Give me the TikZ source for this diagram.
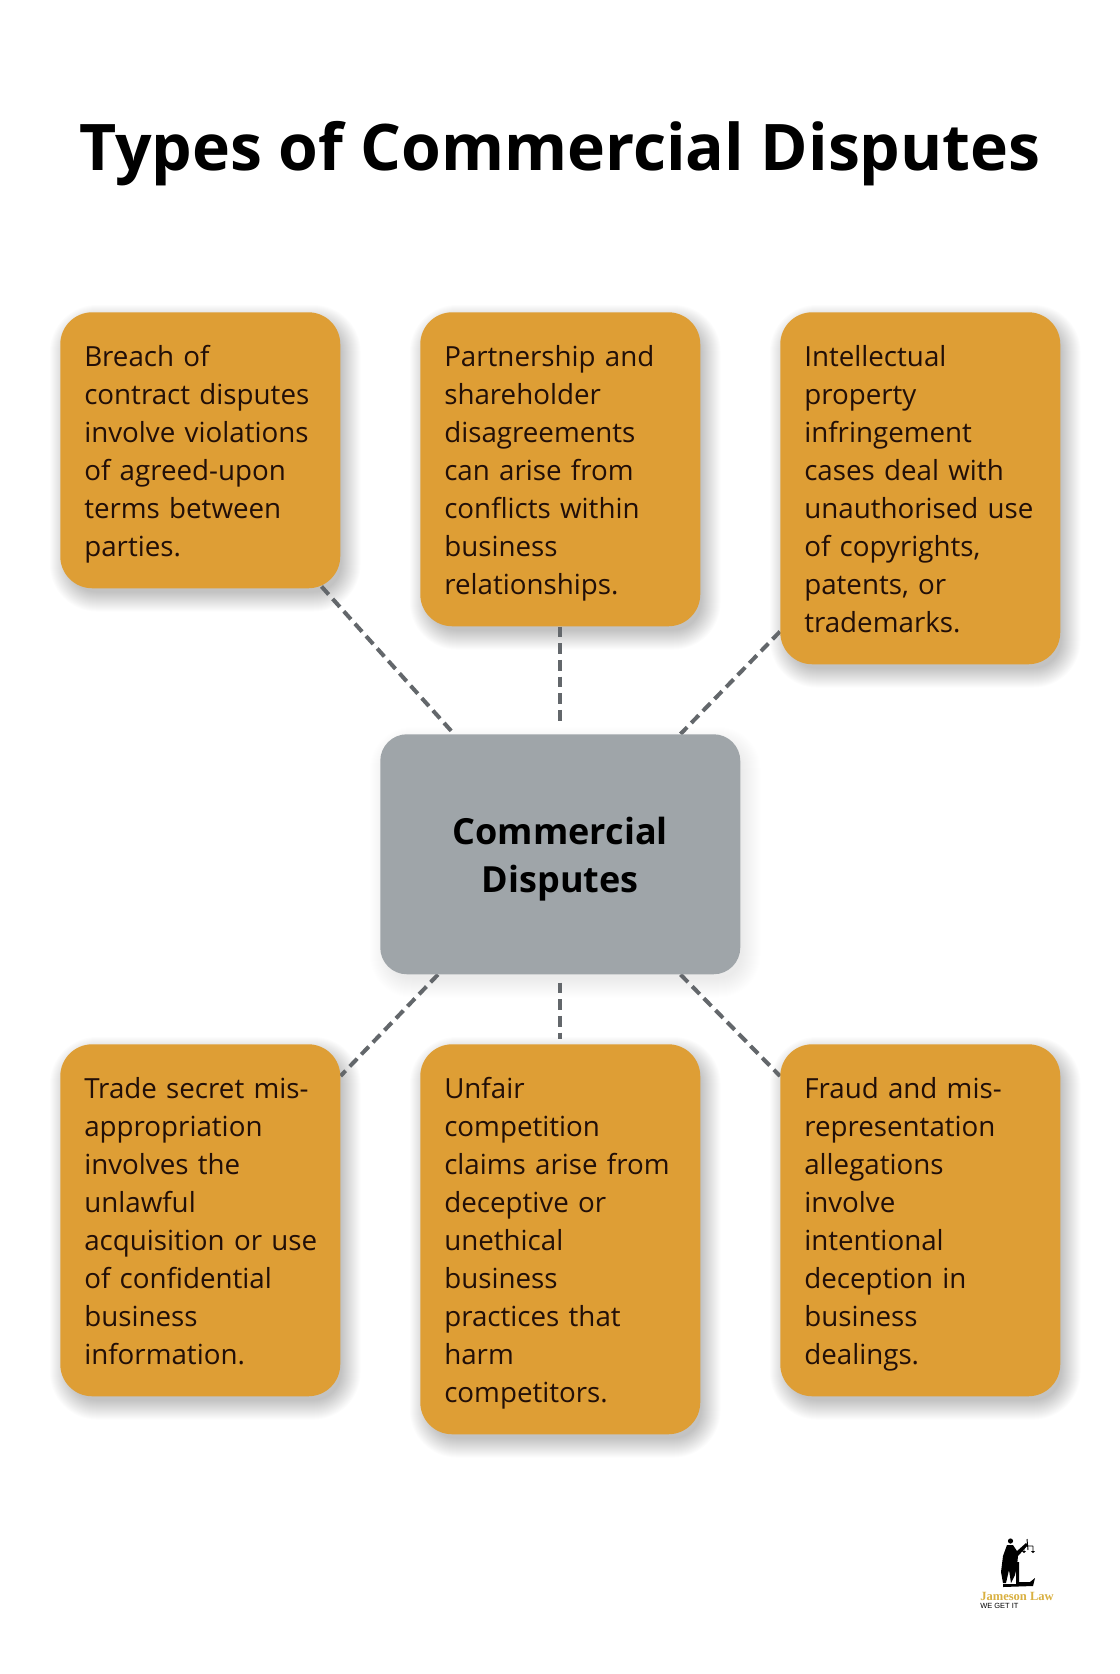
\documentclass[tikz,border=0pt]{standalone}
\usepackage{fontspec}
\setmainfont{Open Sans}
\newfontfamily\logoserif{Liberation Serif}
\newfontfamily\logosans{Liberation Sans}
\usetikzlibrary{backgrounds,calc}
\definecolor{boxorange}{HTML}{DE9E35}
\definecolor{boxgray}{HTML}{9FA5A9}
\definecolor{linkgray}{HTML}{63676B}
\definecolor{inkdark}{HTML}{220F08}
\definecolor{logogold}{HTML}{D9B040}
\newcommand{\bstrut}{\rule[-6pt]{0pt}{28.5pt}}
\newcommand{\softshadow}[3]{%
  \foreach \e in {15,14,...,-4}{%
    \pgfmathsetmacro{\rr}{(#2+\e)*0.75}%
    \fill[black,opacity=#3,rounded corners=\rr pt]
      ($(#1.north west)+(5-\e,8-\e)$) rectangle ($(#1.south east)+(5+\e,8+\e)$);
  }}
\tikzset{
  infobox/.style={anchor=north west,fill=boxorange,rounded corners=24pt,text=inkdark,
    text width=174pt,inner xsep=18pt,inner ysep=18pt,align=left,
    font=\fontsize{20.8pt}{28.5pt}\selectfont},
  hub/.style={anchor=north west,fill=boxgray,rounded corners=20pt,text=black,
    minimum width=270pt,minimum height=180pt,inner sep=0pt,align=center,
    font=\fontsize{27pt}{36pt}\selectfont\bfseries},
  link/.style={draw=linkgray,line width=3pt,dash pattern=on 8pt off 4.5pt},
  titletext/.style={anchor=base,inner sep=0pt,text=black,font=\fontsize{48.2pt}{54pt}\selectfont\bfseries},
}
\begin{document}
\begin{tikzpicture}[x=0.75pt,y=-0.75pt]
\useasboundingbox (0,0) rectangle (1120,1674);
\node[titletext] (title) at (560,170) {Types of Commercial Disputes};
\node[infobox] (b1) at (60,312) {\bstrut Breach of\\contract disputes\\involve violations\\of agreed-upon\\terms between\\parties.\bstrut};
\node[infobox] (b2) at (420,312) {\bstrut Partnership and\\shareholder\\disagreements\\can arise from\\conflicts within\\business\\relationships.\bstrut};
\node[infobox] (b3) at (780,312) {\bstrut Intellectual\\property\\infringement\\cases deal with\\unauthorised use\\of copyrights,\\patents, or\\trademarks.\bstrut};
\node[hub] (cc) at (380,734) {\rule{0pt}{28pt}Commercial\\Disputes};
\node[infobox] (b4) at (60,1044) {\bstrut Trade secret mis-\\appropriation\\involves the\\unlawful\\\mbox{acquisition or use}\\of confidential\\business\\information.\bstrut};
\node[infobox] (b5) at (420,1044) {\bstrut Unfair\\competition\\claims arise from\\deceptive or\\unethical\\business\\practices that\\harm\\competitors.\bstrut};
\node[infobox] (b6) at (780,1044) {\bstrut Fraud and mis-\\representation\\allegations\\involve\\intentional\\deception in\\business\\dealings.\bstrut};
% logo
\node[anchor=base west,inner sep=0pt,text=logogold,font=\logoserif\bfseries\fontsize{9.4pt}{10pt}\selectfont] (logoname) at (980,1600) {Jameson Law};
\node[anchor=base west,inner sep=0pt,text=black,font=\logosans\fontsize{5.6pt}{6pt}\selectfont] (logotag) at (980,1608) {WE GET IT};
\fill[black] (1010.5,1541) circle (2.6);
\fill[black] (1007,1545) -- (1013,1545) -- (1017,1551) -- (1026,1543) -- (1028,1545) -- (1018,1556)
  -- (1017,1566) -- (1015,1575) -- (1011,1583) -- (1009,1570) -- (1006,1583) -- (1003,1583) -- (1001,1572) -- (1003,1556) -- cycle;
\draw[black,line width=0.7pt] (1027,1539) -- (1028,1550) (1024,1546) -- (1033,1546) (1024,1546)--(1024,1551) (1033,1546)--(1033,1551);
\fill[black] (1022,1551) -- (1026,1551) -- (1024,1553) -- cycle (1031,1551) -- (1035,1551) -- (1033,1553) -- cycle;
\fill[black] (1016,1562) -- (1019,1562) -- (1019,1582) -- (1030,1582) -- (1035,1578) -- (1033,1586) -- (1003,1587) -- (1003,1584) -- (1016,1584) -- cycle;
\begin{scope}[on background layer]
  \fill[white] (0,0) rectangle (1120,1674);
  \foreach \n in {b1,b2,b3,b4,b5,b6}{\softshadow{\n}{32}{0.011}}
  \softshadow{cc}{27}{0.0035}
  \draw[link] ([shift={(-19,-2)}]b1.south east) -- ([shift={(74,0)}]cc.north west);
  \draw[link] (b2.south) -- ([yshift=8*0.75pt]cc.north);
  \draw[link] ([shift={(0,-33)}]b3.south west) -- ([shift={(-60,0)}]cc.north east);
  \draw[link] ([shift={(58,0)}]cc.south west) -- ([shift={(0,32)}]b4.north east);
  \draw[link] ([yshift=-8*0.75pt]cc.south) -- ([yshift=5*0.75pt]b5.north);
  \draw[link] ([shift={(-60,0)}]cc.south east) -- ([shift={(0,32)}]b6.north west);
\end{scope}
\end{tikzpicture}
\end{document}
